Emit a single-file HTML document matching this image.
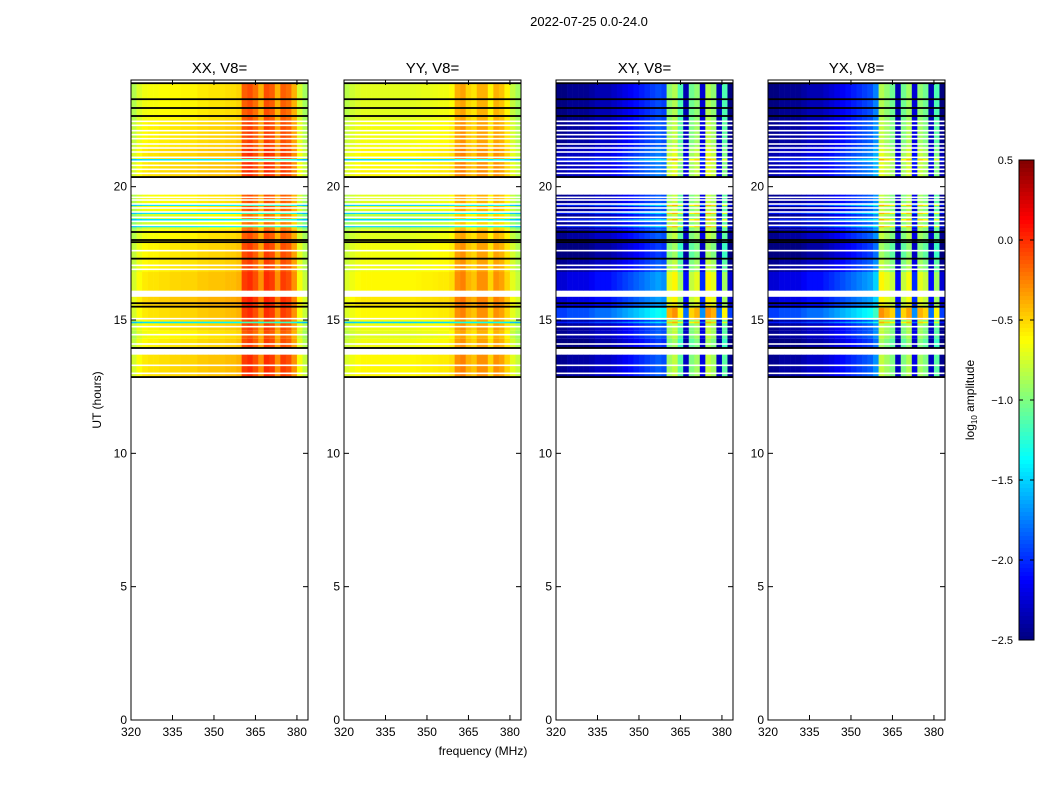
<!DOCTYPE html>
<html><head><meta charset="utf-8">
<style>
body{margin:0;background:#fff;}
svg{display:block;font-family:"Liberation Sans","DejaVu Sans",sans-serif;}
</style></head>
<body>
<svg id="fig" width="1050" height="800" viewBox="0 0 1050 800">
<rect width="1050" height="800" fill="#fff"/>
<text x="589" y="26" text-anchor="middle" font-size="13">2022-07-25 0.0-24.0</text>
<text x="483" y="755" text-anchor="middle" font-size="12">frequency (MHz)</text>
<text transform="translate(101,400) rotate(-90)" text-anchor="middle" font-size="12">UT (hours)</text>
<g id="panels"></g>
<g id="cbar"></g>
<text transform="translate(974,400) rotate(-90)" text-anchor="middle" font-size="12">log<tspan font-size="8" dy="3">10</tspan><tspan dy="-3"> amplitude</tspan></text>
</svg>
<script>
// ---- data ----
const panelNames = ["XX, V8=", "YY, V8=", "XY, V8=", "YX, V8="];
const freqBinStarts = [320,322,324,326,328,330,332,334,336,338,340,342,344,346,348,350,352,354,356,358,360,362,364,366,368,370,372,374,376,378,380,382];
const profileXX = [-0.8,-0.68,-0.62,-0.6,-0.6,-0.58,-0.58,-0.56,-0.56,-0.55,-0.55,-0.55,-0.52,-0.52,-0.5,-0.5,-0.5,-0.48,-0.48,-0.45,-0.1,-0.05,-0.15,-0.35,-0.05,-0.1,-0.35,-0.1,-0.15,-0.35,-0.7,-0.85];
const profileYY = [-0.78,-0.72,-0.68,-0.66,-0.66,-0.66,-0.66,-0.66,-0.66,-0.66,-0.66,-0.66,-0.66,-0.65,-0.64,-0.64,-0.63,-0.62,-0.62,-0.58,-0.35,-0.3,-0.45,-0.5,-0.35,-0.35,-0.55,-0.35,-0.4,-0.55,-0.75,-0.85];
const profileXY = [-2.45,-2.45,-2.4,-2.4,-2.4,-2.4,-2.35,-2.3,-2.3,-2.3,-2.25,-2.2,-2.15,-2.1,-2.05,-2.0,-1.95,-1.9,-1.85,-1.9,-0.9,-0.8,-1.1,-2.3,-1.0,-0.9,-2.2,-0.8,-0.9,-2.3,-1.1,-2.45];
const profileYX = [-2.45,-2.45,-2.4,-2.4,-2.4,-2.4,-2.35,-2.3,-2.3,-2.3,-2.25,-2.2,-2.15,-2.1,-2.05,-2.0,-1.95,-1.9,-1.85,-1.7,-0.8,-0.9,-1.0,-2.3,-1.0,-0.85,-2.2,-0.9,-1.0,-2.3,-1.1,-2.45];
const bandStart = [12.86,13.95,14.3,14.6,15.0,15.45,16.1,16.8,17.3,18.0,18.4,19.0,20.36,21.5,22.5];
const bandEnd   = [13.7,14.3,14.6,15.0,15.45,15.9,16.8,17.3,18.0,18.4,19.0,19.7,21.5,22.5,23.9];
const bandAutoOff  = [0.05,0,-0.05,0,0.05,0.1,0.05,0,0,-0.05,-0.15,-0.05,0.05,0,-0.05];
const bandCrossOff = [0,-0.1,0,0,0.5,0.2,0.2,0,-0.1,0,0,0,0.1,0,-0.05];
const whiteGapHours = [13.0,13.3,14.1,14.45,14.75,15.05,15.9,16.0,16.9,17.05,17.6,18.55,18.7,18.85,19.05,19.2,19.35,19.5,19.6,20.5,20.65,20.8,20.95,21.1,21.3,21.45,21.6,21.8,21.95,22.1,22.3,22.45];
const cyanRowHours = [14.9,18.5,18.75,19.0,19.3,21.0];
const blackLineHours = [12.86,13.95,15.5,15.63,17.3,17.92,18.0,18.3,20.36,22.65,22.95,23.28,23.88];
const yTicks = [0,5,10,15,20];
const xTicks = [320,335,350,365,380];
const cbarTicks = [0.5,0.0,-0.5,-1.0,-1.5,-2.0,-2.5];

// ---- layout ----
const panelX = [131,344,556,768];
const PW = 177, PT = 80, PB = 720;
const F0 = 320, F1 = 384, H0 = 0, H1 = 24, VMIN = -2.5, VMAX = 0.5;
const NS = "http://www.w3.org/2000/svg";
function yScale(h){ return PB - (h - H0) / (H1 - H0) * (PB - PT); }
function xScale(px, f){ return px + (f - F0) / (F1 - F0) * PW; }
function jet(v){
  let t = (v - VMIN) / (VMAX - VMIN); t = Math.max(0, Math.min(1, t));
  const r = Math.max(0, Math.min(1, 1.5 - Math.abs(4*t - 3)));
  const g = Math.max(0, Math.min(1, 1.5 - Math.abs(4*t - 2)));
  const b = Math.max(0, Math.min(1, 1.5 - Math.abs(4*t - 1)));
  return "rgb(" + Math.round(r*255) + "," + Math.round(g*255) + "," + Math.round(b*255) + ")";
}
function mk(tag, attrs, parent){
  const e = document.createElementNS(NS, tag);
  for (const k in attrs) e.setAttribute(k, attrs[k]);
  parent.appendChild(e); return e;
}
const profiles = [profileXX, profileYY, profileXY, profileYX];
const panelsG = document.getElementById("panels");
for (let p = 0; p < 4; p++){
  const px = panelX[p];
  const g = mk("g", {}, panelsG);
  
  
  const cross = p >= 2;
  for (let b = 0; b < bandStart.length; b++){
    const y0 = yScale(bandEnd[b]), y1 = yScale(bandStart[b]);
    for (let i = 0; i < freqBinStarts.length; i++){
      const fa = freqBinStarts[i], fb = i + 1 < freqBinStarts.length ? freqBinStarts[i+1] : F1;
      const v = profiles[p][i] + (cross ? bandCrossOff[b] : bandAutoOff[b]);
      const x0 = xScale(px, fa), x1 = xScale(px, fb);
      const r = mk("rect", {x:x0, y:y0, width:x1-x0+0.3, height:y1-y0, fill:jet(v)}, g);
      
      
    }
  }
  for (const h of cyanRowHours){
    for (let i = 0; i < freqBinStarts.length; i++){
      const fa = freqBinStarts[i], fb = i + 1 < freqBinStarts.length ? freqBinStarts[i+1] : F1;
      const v = cross ? profiles[p][i] + 0.4 : -1.4 + (profiles[p][i] + 0.5) * 0.5;
      const x0 = xScale(px, fa), x1 = xScale(px, fb);
      const r = mk("rect", {x:x0, y:yScale(h)-1, width:x1-x0+0.3, height:1.6, fill:jet(v)}, g);
      
      
    }
  }
  for (const h of whiteGapHours){
    const r = mk("rect", {x:px, y:yScale(h)-0.8, width:PW, height:1.6, fill:"#fff"}, g);
    
    
  }
  for (const h of blackLineHours){
    const r = mk("rect", {x:px, y:yScale(h)-0.9, width:PW, height:1.8, fill:"#000"}, g);
    
    
  }
  const frame = mk("rect", {x:px, y:PT, width:PW, height:PB-PT, fill:"none", stroke:"#000", "stroke-width":1}, g);
  
  
  const t = mk("text", {x:px+PW/2, y:73, "text-anchor":"middle", "font-size":15}, g);
  t.textContent = panelNames[p];
  
  
  for (const h of yTicks){
    const y = yScale(h);
    mk("line", {x1:px, x2:px+5, y1:y, y2:y, stroke:"#000"}, g);
    mk("line", {x1:px+PW-5, x2:px+PW, y1:y, y2:y, stroke:"#000"}, g);
    const l = mk("text", {x:px-4, y:y+4, "text-anchor":"end", "font-size":12}, g);
    l.textContent = h;
    
    
  }
  for (const f of xTicks){
    const x = xScale(px, f);
    mk("line", {x1:x, x2:x, y1:PB, y2:PB-5, stroke:"#000"}, g);
    mk("line", {x1:x, x2:x, y1:PT, y2:PT+5, stroke:"#000"}, g);
    const l = mk("text", {x:x, y:PB+16, "text-anchor":"middle", "font-size":12}, g);
    l.textContent = f;
    
    
  }
}
// colorbar
const cb = document.getElementById("cbar");
const CX = 1019, CW = 15, CT = 160, CB = 640;
for (let i = 0; i < 120; i++){
  const v = VMAX - (i + 0.5) / 120 * (VMAX - VMIN);
  mk("rect", {x:CX, y:CT + i*(CB-CT)/120, width:CW, height:(CB-CT)/120+0.5, fill:jet(v)}, cb);
}
mk("rect", {x:CX, y:CT, width:CW, height:CB-CT, fill:"none", stroke:"#000"}, cb);
for (const v of cbarTicks){
  const y = CB - (v - VMIN) / (VMAX - VMIN) * (CB - CT);
  mk("line", {x1:CX, x2:CX+4, y1:y, y2:y, stroke:"#000"}, cb);
  mk("line", {x1:CX+CW-4, x2:CX+CW, y1:y, y2:y, stroke:"#000"}, cb);
  const l = mk("text", {x:1013, y:y+4, "text-anchor":"end", "font-size":11}, cb);
  l.textContent = v.toFixed(1).replace("-", "\u2212");
  
  
}
</script>
</body></html>
